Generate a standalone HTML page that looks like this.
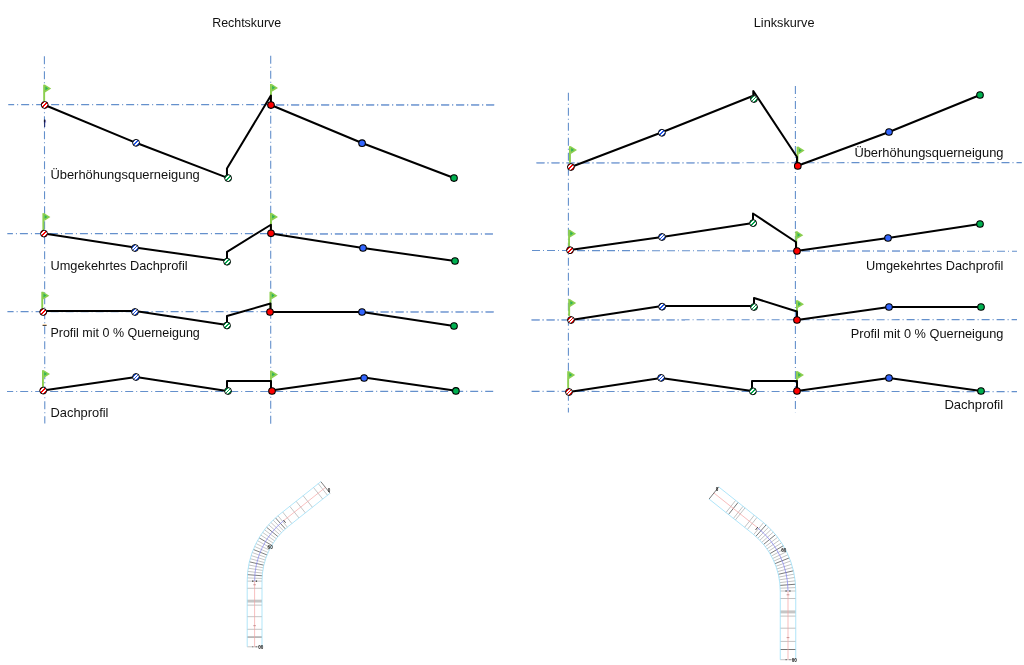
<!DOCTYPE html>
<html lang="de"><head><meta charset="utf-8"><title>Rechtskurve / Linkskurve</title>
<style>
html,body{margin:0;padding:0;background:#fff}
body{width:1024px;height:665px;overflow:hidden;position:relative}
svg{position:absolute;left:0;top:0;display:block}
text{font-family:"Liberation Sans",sans-serif;fill:#111}
.ax{stroke-dasharray:8 3 1 3;fill:none}
.pl{stroke:#000;stroke-width:2;fill:none;stroke-linejoin:round;stroke-linecap:round}
</style></head><body>
<svg width="1024" height="665" viewBox="0 0 1024 665">
<defs>
<clipPath id="cc"><circle r="3.45"/></clipPath>
<g id="kff0000"><circle r="3.45" fill="#fff"/><g clip-path="url(#cc)" stroke="#f00" stroke-width="1.3" shape-rendering="crispEdges"><line x1="-5" y1="5" x2="5" y2="-5"/><line x1="-6.95" y1="3.05" x2="3.05" y2="-6.95"/><line x1="-3.05" y1="6.95" x2="6.95" y2="-3.05"/></g><circle r="3.45" fill="none" stroke="#000" stroke-width="0.95"/></g>
<g id="k3366ff"><circle r="3.45" fill="#fff"/><g clip-path="url(#cc)" stroke="#1f55ea" stroke-width="1.3" shape-rendering="crispEdges"><line x1="-5" y1="5" x2="5" y2="-5"/><line x1="-6.95" y1="3.05" x2="3.05" y2="-6.95"/><line x1="-3.05" y1="6.95" x2="6.95" y2="-3.05"/></g><circle r="3.45" fill="none" stroke="#000" stroke-width="0.95"/></g>
<g id="k00b050"><circle r="3.45" fill="#fff"/><g clip-path="url(#cc)" stroke="#00a84c" stroke-width="1.3" shape-rendering="crispEdges"><line x1="-5" y1="5" x2="5" y2="-5"/><line x1="-6.95" y1="3.05" x2="3.05" y2="-6.95"/><line x1="-3.05" y1="6.95" x2="6.95" y2="-3.05"/></g><circle r="3.45" fill="none" stroke="#000" stroke-width="0.95"/></g>
</defs>
<line class="ax" x1="44.4" y1="56.3" x2="44.8" y2="423.6" stroke-dashoffset="0" stroke-width="1.1" stroke="#6490cc"/>
<line class="ax" x1="270.7" y1="55.7" x2="270.7" y2="424.2" stroke-dashoffset="0" stroke-width="1.1" stroke="#6490cc"/>
<line class="ax" x1="8.25" y1="104.6" x2="494.6" y2="104.65" stroke-dashoffset="2.1" stroke-width="1.1" stroke="#6490cc"/>
<line class="ax" x1="271" y1="105.1" x2="494.6" y2="105.1" stroke-dashoffset="9.85" stroke-width="1.7" stroke="#94b1dd"/>
<line class="ax" x1="7.3" y1="233.6" x2="494" y2="233.7" stroke-dashoffset="2.4" stroke-width="1.1" stroke="#6490cc"/>
<line class="ax" x1="271" y1="234.1" x2="494" y2="234.1" stroke-dashoffset="11.1" stroke-width="1.7" stroke="#94b1dd"/>
<line class="ax" x1="7.4" y1="311.6" x2="494" y2="311.7" stroke-dashoffset="1.8" stroke-width="1.1" stroke="#6490cc"/>
<line class="ax" x1="271" y1="312.2" x2="494" y2="312.2" stroke-dashoffset="10.4" stroke-width="1.7" stroke="#94b1dd"/>
<line class="ax" x1="7" y1="391.5" x2="493.4" y2="391.4" stroke-dashoffset="1.8" stroke-width="1.1" stroke="#6490cc"/>
<line class="ax" x1="568.4" y1="92.8" x2="568.4" y2="412.6" stroke-dashoffset="0" stroke-width="1.1" stroke="#6490cc"/>
<line class="ax" x1="795.4" y1="85.2" x2="795.4" y2="412.3" stroke-dashoffset="14.2" stroke-width="1.1" stroke="#6490cc"/>
<line class="ax" x1="536.5" y1="162.8" x2="1021.8" y2="162.6" stroke-dashoffset="0" stroke-width="1.1" stroke="#6490cc"/>
<line class="ax" x1="536.5" y1="163.0" x2="740" y2="163.0" stroke-dashoffset="0" stroke-width="1.5" stroke="#94b1dd"/>
<line class="ax" x1="531.3" y1="250.5" x2="1017" y2="251.3" stroke-dashoffset="-0.7" stroke-width="1.1" stroke="#6490cc"/>
<line class="ax" x1="740" y1="251.0" x2="961" y2="251.0" stroke-dashoffset="13.0" stroke-width="1.5" stroke="#94b1dd"/>
<line class="ax" x1="531.6" y1="319.9" x2="1017" y2="319.6" stroke-dashoffset="0" stroke-width="1.1" stroke="#6490cc"/>
<line class="ax" x1="531.6" y1="320.1" x2="685" y2="320.0" stroke-dashoffset="0" stroke-width="1.5" stroke="#94b1dd"/>
<line class="ax" x1="531.6" y1="391.4" x2="1017" y2="391.6" stroke-dashoffset="0" stroke-width="1.1" stroke="#6490cc"/>
<g>
<g transform="translate(44.2,101.5)"><rect x="-1" y="-16.8" width="1.9" height="16.8" fill="#8ccf4f"/><path d="M0.5 -17 L7 -12.9 L0.8 -9 Z" fill="#8ccf4f"/><path d="M1.2 -15 L4 -13.1 L1.2 -11.2 Z" fill="#2eb35a"/></g>
<g transform="translate(271,100.8)"><rect x="-1" y="-16.8" width="1.9" height="16.8" fill="#8ccf4f"/><path d="M0.5 -17 L7 -12.9 L0.8 -9 Z" fill="#8ccf4f"/><path d="M1.2 -15 L4 -13.1 L1.2 -11.2 Z" fill="#2eb35a"/></g>
<path class="pl" d="M44.7 105 L136 142.8 L226.95 177.6 L226.95 168.4 L270.9 95.6 L270.9 105 L362 143 L454 178"/>
<use href="#kff0000" x="44.7" y="104.95"/>
<use href="#k3366ff" x="136.07" y="142.84"/>
<use href="#k00b050" x="228.1" y="178.1"/>
<circle cx="271" cy="105.1" r="3.3" fill="#ff0000" stroke="#000" stroke-width="1.1"/>
<circle cx="362.07" cy="143.14" r="3.3" fill="#3366ff" stroke="#000" stroke-width="1.1"/>
<circle cx="454" cy="178.1" r="3.3" fill="#00b050" stroke="#000" stroke-width="1.1"/>
</g>
<g>
<g transform="translate(43.4,230)"><rect x="-1" y="-16.8" width="1.9" height="16.8" fill="#8ccf4f"/><path d="M0.5 -17 L7 -12.9 L0.8 -9 Z" fill="#8ccf4f"/><path d="M1.2 -15 L4 -13.1 L1.2 -11.2 Z" fill="#2eb35a"/></g>
<g transform="translate(271,229.8)"><rect x="-1" y="-16.8" width="1.9" height="16.8" fill="#8ccf4f"/><path d="M0.5 -17 L7 -12.9 L0.8 -9 Z" fill="#8ccf4f"/><path d="M1.2 -15 L4 -13.1 L1.2 -11.2 Z" fill="#2eb35a"/></g>
<path class="pl" d="M44 233.5 L135 247.6 L227 260.4 L227 251.8 L270.9 224.75 L270.9 233.5 L363 248 L455 261"/>
<use href="#kff0000" x="44" y="233.6"/>
<use href="#k3366ff" x="135" y="248"/>
<use href="#k00b050" x="227.1" y="261.7"/>
<circle cx="271" cy="233.3" r="3.3" fill="#ff0000" stroke="#000" stroke-width="1.1"/>
<circle cx="363" cy="248" r="3.3" fill="#3366ff" stroke="#000" stroke-width="1.1"/>
<circle cx="455" cy="261" r="3.3" fill="#00b050" stroke="#000" stroke-width="1.1"/>
</g>
<g>
<g transform="translate(42.3,308.6)"><rect x="-1" y="-16.8" width="1.9" height="16.8" fill="#8ccf4f"/><path d="M0.5 -17 L7 -12.9 L0.8 -9 Z" fill="#8ccf4f"/><path d="M1.2 -15 L4 -13.1 L1.2 -11.2 Z" fill="#2eb35a"/></g>
<g transform="translate(270.5,308.6)"><rect x="-1" y="-16.8" width="1.9" height="16.8" fill="#8ccf4f"/><path d="M0.5 -17 L7 -12.9 L0.8 -9 Z" fill="#8ccf4f"/><path d="M1.2 -15 L4 -13.1 L1.2 -11.2 Z" fill="#2eb35a"/></g>
<path class="pl" d="M43 311 L135 311 L227 325 L227 316 L270.5 303.5 L270.5 312 L362 312 L454 326"/>
<use href="#kff0000" x="43.2" y="312"/>
<use href="#k3366ff" x="135" y="312"/>
<use href="#k00b050" x="227" y="325.5"/>
<circle cx="270" cy="312" r="3.3" fill="#ff0000" stroke="#000" stroke-width="1.1"/>
<circle cx="362" cy="312" r="3.3" fill="#3366ff" stroke="#000" stroke-width="1.1"/>
<circle cx="454" cy="326" r="3.3" fill="#00b050" stroke="#000" stroke-width="1.1"/>
</g>
<g>
<g transform="translate(43,387)"><rect x="-1" y="-16.8" width="1.9" height="16.8" fill="#8ccf4f"/><path d="M0.5 -17 L7 -12.9 L0.8 -9 Z" fill="#8ccf4f"/><path d="M1.2 -15 L4 -13.1 L1.2 -11.2 Z" fill="#2eb35a"/></g>
<g transform="translate(271,387.5)"><rect x="-1" y="-16.8" width="1.9" height="16.8" fill="#8ccf4f"/><path d="M0.5 -17 L7 -12.9 L0.8 -9 Z" fill="#8ccf4f"/><path d="M1.2 -15 L4 -13.1 L1.2 -11.2 Z" fill="#2eb35a"/></g>
<path class="pl" d="M43 390.5 L136 377 L227 391 L227 381 L271 381 L271 390.6 L364.1 377.4 L456 390.8"/>
<use href="#kff0000" x="43.2" y="390.6"/>
<use href="#k3366ff" x="136" y="377"/>
<use href="#k00b050" x="228" y="391"/>
<circle cx="272" cy="391" r="3.3" fill="#ff0000" stroke="#000" stroke-width="1.1"/>
<circle cx="364.1" cy="378" r="3.3" fill="#3366ff" stroke="#000" stroke-width="1.1"/>
<circle cx="455.9" cy="390.9" r="3.3" fill="#00b050" stroke="#000" stroke-width="1.1"/>
</g>
<g>
<g transform="translate(570,163)"><rect x="-1" y="-16.8" width="1.9" height="16.8" fill="#8ccf4f"/><path d="M0.5 -17 L7 -12.9 L0.8 -9 Z" fill="#8ccf4f"/><path d="M1.2 -15 L4 -13.1 L1.2 -11.2 Z" fill="#2eb35a"/></g>
<g transform="translate(797.6,163.5)"><rect x="-1" y="-16.8" width="1.9" height="16.8" fill="#8ccf4f"/><path d="M0.5 -17 L7 -12.9 L0.8 -9 Z" fill="#8ccf4f"/><path d="M1.2 -15 L4 -13.1 L1.2 -11.2 Z" fill="#2eb35a"/></g>
<path class="pl" d="M571 167 L662 132.2 L753.3 95.8 L753.3 91 L797 157 L797 166 L889 132 L980 95"/>
<use href="#kff0000" x="570.9" y="167"/>
<use href="#k3366ff" x="661.9" y="132.8"/>
<use href="#k00b050" x="754" y="99"/>
<circle cx="797.8" cy="165.9" r="3.3" fill="#ff0000" stroke="#000" stroke-width="1.1"/>
<circle cx="889" cy="132" r="3.3" fill="#3366ff" stroke="#000" stroke-width="1.1"/>
<circle cx="980" cy="95" r="3.3" fill="#00b050" stroke="#000" stroke-width="1.1"/>
</g>
<g>
<g transform="translate(569.1,246.6)"><rect x="-1" y="-16.8" width="1.9" height="16.8" fill="#8ccf4f"/><path d="M0.5 -17 L7 -12.9 L0.8 -9 Z" fill="#8ccf4f"/><path d="M1.2 -15 L4 -13.1 L1.2 -11.2 Z" fill="#2eb35a"/></g>
<g transform="translate(796.3,248.1)"><rect x="-1" y="-16.8" width="1.9" height="16.8" fill="#8ccf4f"/><path d="M0.5 -17 L7 -12.9 L0.8 -9 Z" fill="#8ccf4f"/><path d="M1.2 -15 L4 -13.1 L1.2 -11.2 Z" fill="#2eb35a"/></g>
<path class="pl" d="M570 250 L662 237 L753 223 L753 213.5 L796 242 L796 251 L888 238 L980 224"/>
<use href="#kff0000" x="570" y="250.2"/>
<use href="#k3366ff" x="662" y="237"/>
<use href="#k00b050" x="753.1" y="223.1"/>
<circle cx="797" cy="251" r="3.3" fill="#ff0000" stroke="#000" stroke-width="1.1"/>
<circle cx="888" cy="238" r="3.3" fill="#3366ff" stroke="#000" stroke-width="1.1"/>
<circle cx="980" cy="224" r="3.3" fill="#00b050" stroke="#000" stroke-width="1.1"/>
</g>
<g>
<g transform="translate(569.2,316)"><rect x="-1" y="-16.8" width="1.9" height="16.8" fill="#8ccf4f"/><path d="M0.5 -17 L7 -12.9 L0.8 -9 Z" fill="#8ccf4f"/><path d="M1.2 -15 L4 -13.1 L1.2 -11.2 Z" fill="#2eb35a"/></g>
<g transform="translate(797,317.1)"><rect x="-1" y="-16.8" width="1.9" height="16.8" fill="#8ccf4f"/><path d="M0.5 -17 L7 -12.9 L0.8 -9 Z" fill="#8ccf4f"/><path d="M1.2 -15 L4 -13.1 L1.2 -11.2 Z" fill="#2eb35a"/></g>
<path class="pl" d="M571 320 L662 306 L754 306 L754 298 L797 311.5 L797 320 L889 307 L981 307"/>
<use href="#kff0000" x="571" y="320"/>
<use href="#k3366ff" x="662.1" y="306.7"/>
<use href="#k00b050" x="754" y="307"/>
<circle cx="797" cy="320" r="3.3" fill="#ff0000" stroke="#000" stroke-width="1.1"/>
<circle cx="889" cy="307" r="3.3" fill="#3366ff" stroke="#000" stroke-width="1.1"/>
<circle cx="981" cy="307" r="3.3" fill="#00b050" stroke="#000" stroke-width="1.1"/>
</g>
<g>
<g transform="translate(568.2,388)"><rect x="-1" y="-16.8" width="1.9" height="16.8" fill="#8ccf4f"/><path d="M0.5 -17 L7 -12.9 L0.8 -9 Z" fill="#8ccf4f"/><path d="M1.2 -15 L4 -13.1 L1.2 -11.2 Z" fill="#2eb35a"/></g>
<g transform="translate(797,388)"><rect x="-1" y="-16.8" width="1.9" height="16.8" fill="#8ccf4f"/><path d="M0.5 -17 L7 -12.9 L0.8 -9 Z" fill="#8ccf4f"/><path d="M1.2 -15 L4 -13.1 L1.2 -11.2 Z" fill="#2eb35a"/></g>
<path class="pl" d="M569 392 L661 378 L752 391 L752 381 L797 381 L797 391 L889 378 L981 391"/>
<use href="#kff0000" x="569" y="392"/>
<use href="#k3366ff" x="661.1" y="377.9"/>
<use href="#k00b050" x="752.9" y="391.3"/>
<circle cx="797" cy="391" r="3.3" fill="#ff0000" stroke="#000" stroke-width="1.1"/>
<circle cx="889" cy="378" r="3.3" fill="#3366ff" stroke="#000" stroke-width="1.1"/>
<circle cx="981" cy="391" r="3.3" fill="#00b050" stroke="#000" stroke-width="1.1"/>
</g>
<text x="212.2" y="26.75" font-size="12.4" text-anchor="start" textLength="69" lengthAdjust="spacingAndGlyphs">Rechtskurve</text>
<text x="753.8" y="26.75" font-size="12.4" text-anchor="start" textLength="60.7" lengthAdjust="spacingAndGlyphs">Linkskurve</text>
<text x="50.4" y="179" font-size="12.4" text-anchor="start" textLength="149.4" lengthAdjust="spacingAndGlyphs">Überhöhungsquerneigung</text>
<text x="50.4" y="269.6" font-size="12.4" text-anchor="start" textLength="137.2" lengthAdjust="spacingAndGlyphs">Umgekehrtes Dachprofil</text>
<text x="50.4" y="336.6" font-size="12.4" text-anchor="start" textLength="149.4" lengthAdjust="spacingAndGlyphs">Profil mit 0 % Querneigung</text>
<text x="50.5" y="416.6" font-size="12.4" text-anchor="start" textLength="58" lengthAdjust="spacingAndGlyphs">Dachprofil</text>
<text x="854.4" y="157.1" font-size="12.4" text-anchor="start" textLength="149.1" lengthAdjust="spacingAndGlyphs">Überhöhungsquerneigung</text>
<text x="866" y="269.9" font-size="12.4" text-anchor="start" textLength="137.4" lengthAdjust="spacingAndGlyphs">Umgekehrtes Dachprofil</text>
<text x="850.7" y="337.5" font-size="12.4" text-anchor="start" textLength="152.7" lengthAdjust="spacingAndGlyphs">Profil mit 0 % Querneigung</text>
<text x="944.4" y="409" font-size="12.4" text-anchor="start" textLength="58.8" lengthAdjust="spacingAndGlyphs">Dachprofil</text>
<rect x="44" y="119.6" width="1.2" height="7.4" fill="#27357a"/><rect x="43.9" y="119.8" width="1.5" height="2.4" fill="#15152e"/><rect x="45.2" y="120.8" width="0.9" height="1.8" fill="#7a6ad8" opacity="0.7"/>
<rect x="42.6" y="324.6" width="4" height="0.7" fill="#e8912d"/><rect x="42.6" y="325.2" width="4" height="0.8" fill="#222"/>
<g transform="translate(254.6,646.8) scale(0.956,0.956)" fill="none" stroke-linecap="butt">
<path d="M-7.75 -46.30 L7.75 -46.30 L7.75 -49.30 L-7.75 -49.30 Z" fill="#c6c6c6" stroke="none"/>
<path d="M-7.75 -0.00 L7.75 -0.00 M-7.75 -18.30 L7.75 -18.30 M-7.75 -31.50 L7.75 -31.50 M-7.75 -43.60 L7.75 -43.60 M-7.75 -61.20 L7.75 -61.20 M-7.75 -68.70 L7.75 -68.70 M-7.69 -72.09 L7.80 -71.50 M-7.17 -78.86 L8.23 -77.09 M-6.71 -82.23 L8.61 -79.86 M-6.13 -85.57 L9.09 -82.62 M-4.59 -92.18 L10.36 -88.08 M-3.63 -95.43 L11.15 -90.77 M-2.54 -98.65 L12.05 -93.42 M-0.01 -104.95 L14.14 -98.62 M1.44 -108.02 L15.33 -101.15 M3.00 -111.03 L16.62 -103.64 M6.46 -116.87 L19.48 -108.46 M8.36 -119.69 L21.04 -110.78 M10.36 -122.43 L22.70 -113.04 M14.67 -127.67 L26.26 -117.37 M16.98 -130.16 L28.16 -119.43 M19.37 -132.56 L30.14 -121.41 M24.43 -137.09 L34.31 -125.14 M66.60 -170.65 L76.25 -158.52 M61.60 -166.67 L71.24 -154.54 M50.80 -158.08 L60.44 -145.95 M43.44 -152.23 L53.09 -140.09 M36.79 -146.93 L46.44 -134.80 M29.35 -141.02 L39.00 -128.89" stroke="#858585" stroke-width="0.5"/>
<path d="M-7.75 -10.20 L7.75 -10.20 M-2.60 -0.00 L-1.40 -0.00 M1.00 -0.00 L2.60 -0.00 M-7.49 -75.48 L7.96 -74.30 M-5.42 -88.89 L9.67 -85.36 M-1.34 -101.82 L13.04 -96.04 M4.67 -113.99 L18.00 -106.08 M12.47 -125.09 L24.44 -115.24 M21.86 -134.87 L32.19 -123.32 M69.26 -172.77 L78.91 -160.64" stroke="#555" stroke-width="0.8"/>
<path d="M-7.75 -0.00 L-7.75 -68.70 A88.75 88.75 0 0 1 25.75 -138.16 L69.26 -172.77 M7.75 -0.00 L7.75 -68.70 A73.25 73.25 0 0 1 35.40 -126.03 L78.91 -160.64" stroke="#9adef7" stroke-width="0.8"/>
<path d="M0.00 -0.00 L0.00 -68.70 M30.58 -132.09 L74.09 -166.70" stroke="#f4a0a0" stroke-width="0.7"/>
<path d="M0.00 -68.70 A81.0 81.0 0 0 1 30.58 -132.09" stroke="#8080f0" stroke-width="0.7"/>
<path d="M-1.40 -22.10 L1.40 -22.10 M-1.40 -64.90 L1.40 -64.90" stroke="#b07070" stroke-width="0.7"/>
<path d="M-2.60 -68.70 L-1.20 -68.70 M1.20 -68.70 L2.60 -68.70" stroke="#333" stroke-width="1.1"/>
<path d="M30.20 -132.56 L32.44 -129.74" stroke="#333" stroke-width="0.9"/>
</g>
<g transform="translate(788,659.7) scale(-1.0,1.0)" fill="none" stroke-linecap="butt">
<path d="M-7.75 -46.30 L7.75 -46.30 L7.75 -49.30 L-7.75 -49.30 Z" fill="#c6c6c6" stroke="none"/>
<path d="M-7.75 -0.00 L7.75 -0.00 M-7.75 -18.30 L7.75 -18.30 M-7.75 -31.50 L7.75 -31.50 M-7.75 -43.60 L7.75 -43.60 M-7.75 -61.20 L7.75 -61.20 M-7.75 -68.70 L7.75 -68.70 M-7.69 -72.09 L7.80 -71.50 M-7.17 -78.86 L8.23 -77.09 M-6.71 -82.23 L8.61 -79.86 M-6.13 -85.57 L9.09 -82.62 M-4.59 -92.18 L10.36 -88.08 M-3.63 -95.43 L11.15 -90.77 M-2.54 -98.65 L12.05 -93.42 M-0.01 -104.95 L14.14 -98.62 M1.44 -108.02 L15.33 -101.15 M3.00 -111.03 L16.62 -103.64 M6.46 -116.87 L19.48 -108.46 M8.36 -119.69 L21.04 -110.78 M10.36 -122.43 L22.70 -113.04 M14.67 -127.67 L26.26 -117.37 M16.98 -130.16 L28.16 -119.43 M19.37 -132.56 L30.14 -121.41 M24.43 -137.09 L34.31 -125.14 M52.36 -159.32 L62.01 -147.19 M44.93 -153.41 L54.57 -141.28 M42.97 -151.85 L52.62 -139.72 M33.73 -144.51 L43.38 -132.38 M31.00 -142.33 L40.64 -130.20" stroke="#858585" stroke-width="0.5"/>
<path d="M-7.75 -10.20 L7.75 -10.20 M-2.60 -0.00 L-1.40 -0.00 M1.00 -0.00 L2.60 -0.00 M-7.49 -75.48 L7.96 -74.30 M-5.42 -88.89 L9.67 -85.36 M-1.34 -101.82 L13.04 -96.04 M4.67 -113.99 L18.00 -106.08 M12.47 -125.09 L24.44 -115.24 M21.86 -134.87 L32.19 -123.32 M49.86 -157.33 L59.51 -145.20 M69.26 -172.77 L78.91 -160.64" stroke="#555" stroke-width="0.8"/>
<path d="M-7.75 -0.00 L-7.75 -68.70 A88.75 88.75 0 0 1 25.75 -138.16 L69.26 -172.77 M7.75 -0.00 L7.75 -68.70 A73.25 73.25 0 0 1 35.40 -126.03 L78.91 -160.64" stroke="#9adef7" stroke-width="0.8"/>
<path d="M0.00 -0.00 L0.00 -68.70 M30.58 -132.09 L74.09 -166.70" stroke="#f4a0a0" stroke-width="0.7"/>
<path d="M0.00 -68.70 A81.0 81.0 0 0 1 30.58 -132.09" stroke="#8080f0" stroke-width="0.7"/>
<path d="M-1.40 -22.10 L1.40 -22.10 M-1.40 -64.90 L1.40 -64.90" stroke="#b07070" stroke-width="0.7"/>
<path d="M-2.60 -68.70 L-1.20 -68.70 M1.20 -68.70 L2.60 -68.70" stroke="#333" stroke-width="1.1"/>
<path d="M30.20 -132.56 L32.44 -129.74" stroke="#333" stroke-width="0.9"/>
</g>
<text x="258.2" y="648.6" font-size="4.6" font-weight="bold" fill="#222" transform="rotate(0 258.2 648.6)">00</text>
<text x="791.8" y="661.5" font-size="4.6" font-weight="bold" fill="#222" transform="rotate(0 791.8 661.5)">00</text>
<text x="267.6" y="549.4" font-size="4.6" font-weight="bold" fill="#222" transform="rotate(0 267.6 549.4)">60</text>
<text x="781.2" y="552" font-size="4.6" font-weight="bold" fill="#222" transform="rotate(0 781.2 552)">60</text>
<text x="327.8" y="492.2" font-size="4.6" font-weight="bold" fill="#222" transform="rotate(0 327.8 492.2)">0</text>
<text x="715.8" y="490.5" font-size="4.6" font-weight="bold" fill="#222" transform="rotate(0 715.8 490.5)">0</text>
</svg></body></html>
